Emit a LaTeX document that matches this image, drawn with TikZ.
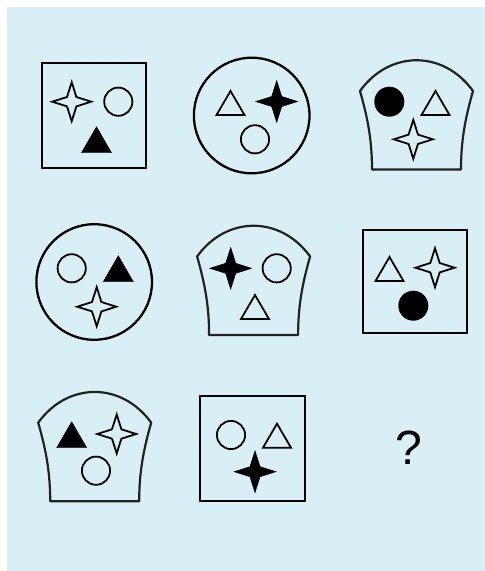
\documentclass[tikz,border=0pt]{standalone}
\usepackage{fontspec}
\setmainfont{Liberation Sans}
\definecolor{bgblue}{RGB}{216,239,245}
\definecolor{headgray}{RGB}{34,34,34}
\tikzset{
  framebox/.style={line width=2.3pt, draw=black},
  headline/.style={line width=2.2pt, draw=headgray, line join=round},
  thinline/.style={line width=1.8pt, draw=black, line join=miter},
  solidfill/.style={fill=black, draw=black, line width=0.4pt},
}
\newcommand{\headshape}[2]{%
  \draw[headline, shift={(#1,#2)}] (-44.5,78.5) .. controls (-44.5,50) and (-48.5,28) .. (-56.5,0)
    .. controls (-27,-41) and (27,-41) .. (56.5,0)
    .. controls (48.5,28) and (44.5,50) .. (44.5,78.5) -- cycle;}
\newcommand{\starshape}[4]{%
  \path[#4, shift={(#1,#2)}] (0:#3) -- (45:{0.34*#3}) -- (90:#3) -- (135:{0.34*#3})
    -- (180:#3) -- (225:{0.34*#3}) -- (270:#3) -- (315:{0.34*#3}) -- cycle;}
\newcommand{\trifill}[2]{%
  \path[solidfill] (#1,#2) -- ++(15,26) -- ++(-30,0) -- cycle;}
\newcommand{\triline}[2]{%
  \path[thinline] (#1,{#2+1}) -- ++(14,24) -- ++(-28,0) -- cycle;}
\newcommand{\cirline}[2]{\path[thinline] (#1,#2) circle[radius=14.1];}
\newcommand{\cirfill}[2]{\path[fill=black] (#1,#2) circle[radius=15];}
\begin{document}
\begin{tikzpicture}[x=1pt,y=-1pt]
\useasboundingbox (0,0) rectangle (485,571);
\fill[bgblue] (7,7) rectangle (485,571);

% Figure 1: square
\draw[framebox] (42,63) rectangle (146,168);
\starshape{71.7}{101.7}{19.5}{thinline}
\cirline{118.3}{101.7}
\trifill{96.5}{126.7}

% Figure 2: circle
\draw[framebox] (251.7,115.5) circle[radius=57.8];
\triline{230.5}{90}
\starshape{276.7}{101.5}{21}{solidfill}
\cirline{255}{139.3}

% Figure 3: head
\headshape{416.5}{91}
\cirfill{389.3}{101.7}
\triline{435.5}{90}
\starshape{413.3}{139.3}{19.5}{thinline}

% Figure 4: circle
\draw[framebox] (94.2,282) circle[radius=57.8];
\cirline{71.7}{268.3}
\trifill{118.3}{255.7}
\starshape{96.7}{306.7}{19.5}{thinline}

% Figure 5: head
\headshape{253.6}{256.5}
\starshape{230.7}{268.3}{21}{solidfill}
\cirline{276.7}{268.3}
\triline{255}{294}

% Figure 6: square
\draw[framebox] (363.3,230) rectangle (466.7,333.3);
\triline{389.5}{256}
\starshape{435}{267.7}{19.5}{thinline}
\cirfill{413.3}{305.7}

% Figure 7: head
\headshape{94.7}{422.7}
\trifill{71.7}{421.7}
\starshape{116.7}{434}{19.5}{thinline}
\cirline{96}{470.7}

% Figure 8: square
\draw[framebox] (200,395.7) rectangle (305,500.7);
\cirline{231}{435}
\triline{277}{422.7}
\starshape{255}{471.7}{21}{solidfill}

% Figure 9: question mark
\node[inner sep=0pt, font=\fontsize{48}{50}\selectfont] (q) at (409.3,447.5) {?};
\end{tikzpicture}
\end{document}
